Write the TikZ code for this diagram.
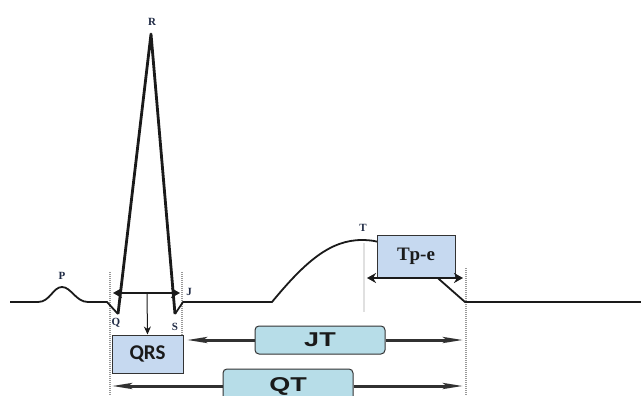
\documentclass[tikz,border=0pt]{standalone}
\usepackage{fontspec}
\usepackage{graphicx}
\setmainfont{Liberation Serif}
\newfontfamily\boxsans{Carlito}
\newfontfamily\widesans{Liberation Sans}
\usetikzlibrary{arrows.meta}

\definecolor{boxblue}{HTML}{C6D9F0}
\definecolor{boxteal}{HTML}{B7DDE8}
\definecolor{wavelbl}{HTML}{1F2A44}
\definecolor{ink}{HTML}{1A1A1A}

\tikzset{
  trace/.style={line width=1.8pt, draw=ink, line join=round},
  rleg/.style={line width=2.8pt, draw=ink, line join=round},
  guide/.style={draw=black!40, line width=1.8pt, dash pattern=on 1pt off 1pt},
  faint/.style={draw=black!12, line width=1.6pt},
  wavelabel/.style={font=\bfseries\fontsize{11}{11}\selectfont, text=wavelbl, inner sep=0pt},
  measbox/.style={draw=black!80, line width=1pt, fill=boxblue, inner sep=0pt,
    text=ink},
  interval/.style={draw=black!80, line width=1pt, fill=boxteal, rounded corners=4pt,
    inner sep=0pt, text=ink},
  heavy/.style={line width=2.6pt, draw=ink},
  longtip/.style={line width=3pt, draw=ink!90,
    -{Stealth[length=20pt,width=6pt,inset=4pt]}},
}

\begin{document}
\begin{tikzpicture}[x=1pt,y=-1pt]
\useasboundingbox (0,0) rectangle (641,396);
\clip (0,0) rectangle (641,396);

% interval boundaries
\draw[guide] (110,272) -- (110,396);
\draw[guide] (182,272) -- (182,352);
\draw[guide] (466,268) -- (466,396);
\draw[faint] (364,243) -- (364,312);

% ECG trace
\draw[trace] (10,302) -- (38,302)
  .. controls (50,302) and (53,287) .. (62,287)
  .. controls (71,287) and (76,302) .. (88,302)
  -- (107,302) -- (118,314);
\draw[rleg] (118,314) -- (151,34) -- (175,314);
\draw[trace] (175,314) -- (183,302) -- (272,302)
  .. controls (305,262) and (330,240) .. (362,240)
  .. controls (395,240) and (420,262) .. (440,280)
  -- (465,302) -- (641,302);

% wave labels
\node[wavelabel] (lP) at (62,276) {P};
\node[wavelabel] (lQ) at (116,323) {Q};
\node[wavelabel] (lR) at (152,22) {R};
\node[wavelabel] (lS) at (175,327) {S};
\node[wavelabel] (lJ) at (189,292) {J};
\node[wavelabel] (lT) at (363,228) {T};

% measurement boxes
\node[measbox, minimum width=71pt, minimum height=38pt,
  font=\boxsans\bfseries\fontsize{21}{21}\selectfont] (qrs) at (147.5,354) {QRS};
\node[interval, minimum width=130pt, minimum height=28pt,
  font=\widesans\bfseries\fontsize{20}{20}\selectfont] (jt) at (320,340)
  {\scalebox{1.35}[1]{JT}};
\node[interval, minimum width=130pt, minimum height=34pt,
  font=\widesans\bfseries\fontsize{20}{20}\selectfont] (qt) at (288,386)
  {\raisebox{2pt}{\scalebox{1.35}[1]{QT}}};
\node[measbox, minimum width=78pt, minimum height=42pt,
  font=\bfseries\fontsize{19}{19}\selectfont] (tpe) at (416,256) {Tp-e};

% QRS duration
\coordinate (qon) at (113,293);
\coordinate (jpt) at (180,293);
\coordinate (qmid) at (147,293);
\draw[heavy, {Stealth[length=9pt,width=10pt]}-{Stealth[length=9pt,width=10pt]}] (qon) -- (jpt);
\draw[line width=1pt, draw=ink, -{Stealth[length=8pt,width=7pt]}] (qmid) -- (qrs.north);

% JT and QT intervals
\coordinate (jtl) at (187,340);
\coordinate (jtr) at (463,340);
\coordinate (qtl) at (112,386);
\coordinate (qtr) at (463,386);
\draw[longtip] (jt.west) -- (jtl);
\draw[longtip] (jt.east) -- (jtr);
\draw[longtip] (qt.west |- qtl) -- (qtl);
\draw[longtip] (qt.east |- qtr) -- (qtr);

% T peak to end
\coordinate (tpk) at (367,278);
\coordinate (tend) at (463,278);
\draw[heavy, {Stealth[length=9pt,width=10pt]}-{Stealth[length=9pt,width=10pt]}] (tpk) -- (tend);
\end{tikzpicture}
\end{document}
